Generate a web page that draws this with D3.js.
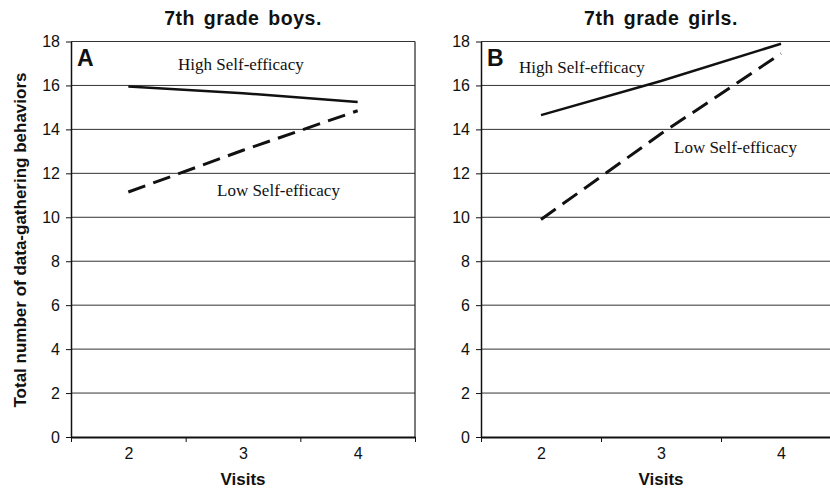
<!DOCTYPE html>
<html>
<head>
<meta charset="utf-8">
<script src="https://cdn.jsdelivr.net/npm/d3@7"></script>
<style>
  body { margin: 0; background: #fff; }
  svg { display: block; }
</style>
</head>
<body>
<svg width="830" height="490"></svg>
<script>
// data
const visits = [2, 3, 4];
const yTicks = [0, 2, 4, 6, 8, 10, 12, 14, 16, 18];
const boysHigh = [15.95, 15.65, 15.25];
const boysLow = [11.15, 13.05, 14.85];
const girlsHigh = [14.65, 16.2, 17.9];
const girlsLow = [9.9, 13.8, 17.45];

const svg = d3.select("svg");
const sans = "Liberation Sans, Arial, sans-serif";
const top_ = 41.5, bottom = 437;

const y = d3.scaleLinear().domain([0, 18]).range([bottom, top_]);

function drawPanel(opts) {
  const x = d3.scaleLinear().domain([1.5, 4.5]).range([opts.left, opts.right]);
  const g = svg.append("g");

  // gridlines
  g.append("g")
    .selectAll("line")
    .data(yTicks.filter(d => d > 0))
    .join("line")
      .attr("x1", opts.left).attr("x2", opts.right)
      .attr("y1", d => y(d)).attr("y2", d => y(d))
      .attr("stroke", "#333").attr("stroke-width", 1);

  // right frame line
  g.append("line")
    .attr("x1", opts.right).attr("x2", opts.right)
    .attr("y1", y(18)).attr("y2", y(0))
    .attr("stroke", "#222").attr("stroke-width", 1.2);

  // y axis
  const yAxis = g.append("g")
    .attr("transform", `translate(${opts.left},0)`)
    .call(d3.axisLeft(y).tickValues(yTicks).tickFormat(d3.format("d"))
      .tickSize(5).tickPadding(6).tickSizeOuter(0));
  yAxis.select(".domain").attr("stroke", "#111").attr("stroke-width", 1.5);
  yAxis.selectAll(".tick line").attr("stroke", "#111");
  yAxis.selectAll("text").style("font-family", sans).style("font-size", "16px").attr("fill", "#111");

  // x axis: tick marks at category boundaries, labels centred
  const xAxis = g.append("g")
    .attr("transform", `translate(0,${bottom})`)
    .call(d3.axisBottom(x).tickValues([1.5, 2.5, 3.5, 4.5]).tickSize(5).tickFormat("").tickSizeOuter(0));
  xAxis.select(".domain").attr("stroke", "#111").attr("stroke-width", 2.2);
  xAxis.selectAll(".tick line").attr("stroke", "#111");

  g.append("g")
    .attr("transform", `translate(0,${bottom})`)
    .call(d3.axisBottom(x).tickValues(visits).tickFormat(d3.format("d")).tickSize(0).tickPadding(11))
    .call(a => a.select(".domain").remove())
    .selectAll("text")
      .style("font-family", sans)
      .style("font-size", "16px").attr("fill", "#111");

  const line = d3.line()
    .x((d, i) => x(visits[i]))
    .y(d => y(d));

  g.append("path")
    .datum(opts.high)
    .attr("fill", "none").attr("stroke", "#111")
    .attr("stroke-width", 2.5)
    .attr("d", line);

  g.append("path")
    .datum(opts.low)
    .attr("fill", "none").attr("stroke", "#111")
    .attr("stroke-width", 3)
    .attr("stroke-dasharray", "18,8.5")
    .attr("d", line);

  const mid = (opts.left + opts.right) / 2;
  g.append("text")
    .attr("x", mid).attr("y", 25)
    .attr("text-anchor", "middle")
    .style("font-family", sans)
    .style("font-weight", "bold").style("font-size", "19.5px")
    .style("letter-spacing", "0.5px").style("word-spacing", "3px")
    .attr("fill", "#111")
    .text(opts.title);

  g.append("text")
    .attr("x", mid).attr("y", 485)
    .attr("text-anchor", "middle")
    .style("font-family", sans)
    .style("font-weight", "bold").style("font-size", "17px")
    .attr("fill", "#111")
    .text("Visits");

  g.append("text")
    .attr("x", opts.left + opts.letterDx).attr("y", 65.5)
    .style("font-family", sans)
    .style("font-weight", "bold").style("font-size", "23px")
    .attr("fill", "#111")
    .text(opts.letter);

  opts.labels.forEach(l => {
    g.append("text")
      .attr("x", l.x).attr("y", l.y)
      .style("font-family", "Liberation Serif, Times New Roman, serif")
      .style("font-size", "17px")
      .attr("fill", "#111")
      .text(l.text);
  });
}

drawPanel({
  left: 71, right: 415, title: "7th grade boys.", letter: "A", letterDx: 6,
  high: boysHigh, low: boysLow,
  labels: [
    { text: "High Self-efficacy", x: 178, y: 70 },
    { text: "Low Self-efficacy", x: 217, y: 196 }
  ]
});

drawPanel({
  left: 481, right: 841, title: "7th grade girls.", letter: "B", letterDx: 6,
  high: girlsHigh, low: girlsLow,
  labels: [
    { text: "High Self-efficacy", x: 519, y: 73 },
    { text: "Low Self-efficacy", x: 674, y: 153 }
  ]
});

// shared y-axis title
svg.append("text")
  .attr("transform", "translate(26,240) rotate(-90)")
  .attr("text-anchor", "middle")
  .style("font-family", sans)
  .style("font-weight", "bold").style("font-size", "17px")
  .attr("fill", "#111")
  .text("Total number of data-gathering behaviors");
</script>
</body>
</html>
